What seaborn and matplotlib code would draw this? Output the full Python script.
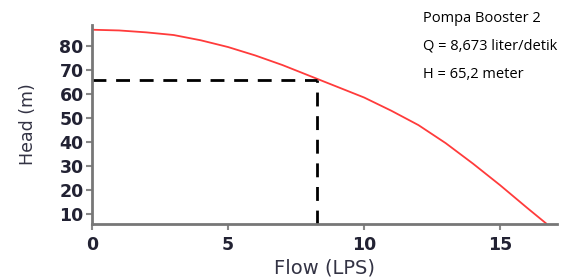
import numpy as np
import pandas as pd
import seaborn as sns
import matplotlib.pyplot as plt

# pump curve
flow = [0, 1, 2, 3, 4, 5, 6, 7, 8, 9, 10, 11, 12, 13, 14, 15, 16, 16.7]
head = [86.7, 86.4, 85.6, 84.5, 82.3, 79.5, 76.0, 72.0, 67.5, 63.0,
        58.5, 53.0, 47.0, 39.5, 31.0, 22.0, 12.5, 6.0]

# operating point as drawn on the chart
op_flow = 8.27
op_head = 65.8

x_ticks = [0, 5, 10, 15]
y_ticks = [10, 20, 30, 40, 50, 60, 70, 80]

notes = ["Pompa Booster 2", "Q = 8,673 liter/detik", "H = 65,2 meter"]

sns.set_style("white", {"xtick.bottom": True, "ytick.left": True})
plt.rcParams['font.family'] = ['DejaVu Sans']
plt.rcParams.update({
    "xtick.major.size": 4.5, "ytick.major.size": 4.5,
    "xtick.major.width": 1.5, "ytick.major.width": 1.5,
    "xtick.color": "#888888", "ytick.color": "#888888",
    "xtick.labelcolor": "#222233", "ytick.labelcolor": "#222233",
})

df = pd.DataFrame({"Flow": flow, "Head": head})

fig = plt.figure(figsize=(5.68, 2.77), dpi=100)
ax = fig.add_axes([0.162, 0.191, 0.819, 0.719])

sns.lineplot(data=df, x="Flow", y="Head", ax=ax, color="#ff3b3b", lw=1.3)

# dashed guide lines to the operating point
ax.plot([0, op_flow], [op_head, op_head], color="black", lw=2, ls=(0, (5, 3.5)))
ax.plot([op_flow, op_flow], [5.8, op_head], color="black", lw=2, ls=(0, (5, 3.5)))

ax.set_xlim(0, 17.1)
ax.set_ylim(5.8, 88.7)
ax.set_xticks(x_ticks)
ax.set_yticks(y_ticks)

for side in ["top", "right"]:
    ax.spines[side].set_visible(False)
for side in ["left", "bottom"]:
    ax.spines[side].set_color("#777777")
    ax.spines[side].set_linewidth(2)

ax.tick_params(axis="both", labelsize=12.5)
ax.tick_params(axis="y", pad=1.5)
ax.tick_params(axis="x", pad=4)
for lab in ax.get_xticklabels() + ax.get_yticklabels():
    lab.set_fontweight("bold")

ax.set_xlabel("Flow (LPS)", fontsize=14, color="#333344", labelpad=3)
ax.set_ylabel("Head (m)", fontsize=12.5, color="#333344", labelpad=16)

note_y = [0.935, 0.833, 0.73]
for t, yy in zip(notes, note_y):
    fig.text(0.745, yy, t, fontsize=10.5, family=['Open Sans', 'DejaVu Sans'],
             color="black", va="center")

fig.savefig("out.png", dpi=100)
